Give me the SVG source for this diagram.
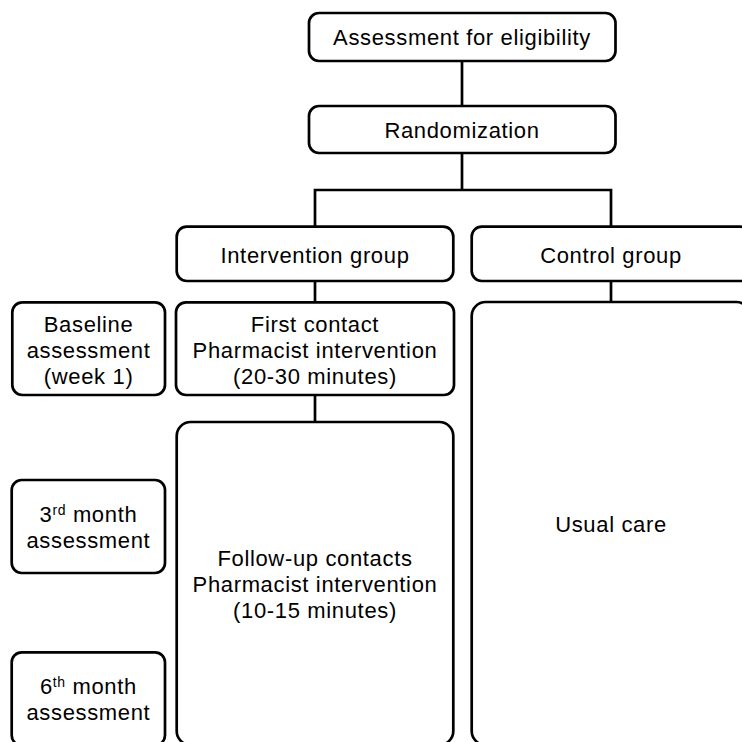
<svg xmlns="http://www.w3.org/2000/svg" width="742" height="742" viewBox="0 0 742 742">
<style>
.box{fill:#fff;stroke:#000;stroke-width:2.7}
.ln{fill:none;stroke:#000;stroke-width:2.7}
text{font-family:"Liberation Sans",Arial,sans-serif;font-size:22px;letter-spacing:0.65px;fill:#000;text-anchor:middle}
.sup{font-size:14px}
</style>
<rect width="742" height="742" fill="#fff"/>
<g id="connectors">
<path class="ln" d="M462 61V106"/>
<path class="ln" d="M462 153V190M315 226.7V190H611V226.7"/>
<path class="ln" d="M315 281V302"/>
<path class="ln" d="M611 281V302"/>
<path class="ln" d="M315 395V422"/>
</g>
<g id="assessment-eligibility">
<rect class="box" x="309" y="13" width="306.5" height="48" rx="10"/>
<text x="462" y="45">Assessment for eligibility</text>
</g>
<g id="randomization">
<rect class="box" x="309" y="106" width="306.5" height="47" rx="10"/>
<text x="462" y="138">Randomization</text>
</g>
<g id="intervention-group">
<rect class="box" x="176.7" y="226.7" width="276.6" height="54.3" rx="10"/>
<text x="315" y="263">Intervention group</text>
</g>
<g id="control-group">
<rect class="box" x="471.7" y="226.7" width="278.6" height="54.3" rx="10"/>
<text x="611" y="263">Control group</text>
</g>
<g id="baseline-assessment">
<rect class="box" x="12.3" y="302.3" width="152.7" height="92.7" rx="10"/>
<text x="88.6" y="331.7">Baseline</text>
<text x="88.6" y="358">assessment</text>
<text x="88.6" y="384.3">(week 1)</text>
</g>
<g id="first-contact">
<rect class="box" x="176" y="302.3" width="278" height="92.7" rx="10"/>
<text x="315" y="331.7">First contact</text>
<text x="315" y="358">Pharmacist intervention</text>
<text x="315" y="384.3">(20-30 minutes)</text>
</g>
<g id="third-month">
<rect class="box" x="11.7" y="480" width="153.3" height="93" rx="10"/>
<text x="88.4" y="522">3<tspan class="sup" dy="-7">rd</tspan><tspan dy="7"> month</tspan></text>
<text x="88.4" y="548.3">assessment</text>
</g>
<g id="sixth-month">
<rect class="box" x="11.7" y="652.3" width="153.3" height="93" rx="10"/>
<text x="88.4" y="694">6<tspan class="sup" dy="-7">th</tspan><tspan dy="7"> month</tspan></text>
<text x="88.4" y="720">assessment</text>
</g>
<g id="follow-up">
<rect class="box" x="176.7" y="422" width="276.6" height="323" rx="14"/>
<text x="315" y="566">Follow-up contacts</text>
<text x="315" y="592">Pharmacist intervention</text>
<text x="315" y="618">(10-15 minutes)</text>
</g>
<g id="usual-care">
<rect class="box" x="471.7" y="302" width="278.6" height="443" rx="14"/>
<text x="611" y="532">Usual care</text>
</g>
</svg>
